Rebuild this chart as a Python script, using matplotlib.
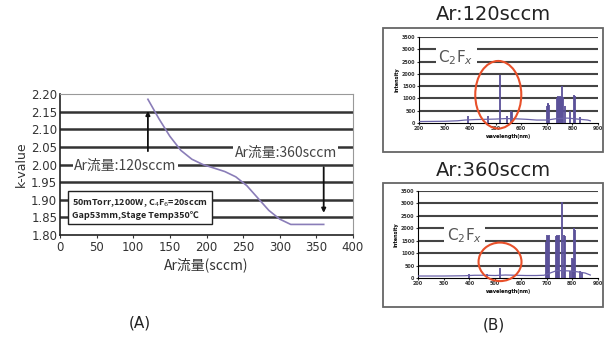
import matplotlib
matplotlib.use("Agg")
import matplotlib.pyplot as plt
from matplotlib.patches import Ellipse, Rectangle

cjk = ['Noto Sans CJK JP', 'DejaVu Sans']

# main chart: k-value vs Ar flow
ar_flow = [120, 135, 150, 165, 180, 195, 210, 225, 240, 255, 270, 285, 300, 315, 330, 345, 360]
k_value = [2.185, 2.13, 2.08, 2.04, 2.015, 2.0, 1.99, 1.98, 1.965, 1.94, 1.905, 1.87, 1.845, 1.83, 1.83, 1.83, 1.83]
x_ticks = [0, 50, 100, 150, 200, 250, 300, 350, 400]
y_ticks = [1.80, 1.85, 1.90, 1.95, 2.00, 2.05, 2.10, 2.15, 2.20]

# spectrum Ar:120sccm
base120_wl = [200, 300, 350, 380, 420, 460, 500, 540, 580, 620, 660, 700, 740, 780, 820, 860, 870]
base120_int = [60, 70, 90, 120, 140, 150, 160, 180, 170, 150, 120, 120, 180, 200, 160, 120, 90]
peak120_wl = [390, 468, 515, 545, 558, 562, 700, 703, 706, 709, 740, 744, 748, 752, 756, 760, 764, 770, 790, 808, 812, 830]
peak120_int = [300, 300, 1950, 300, 500, 450, 700, 800, 780, 750, 1000, 1100, 1050, 1100, 1000, 1500, 1050, 700, 500, 1150, 1100, 250]

# spectrum Ar:360sccm
base360_wl = [200, 300, 380, 420, 460, 500, 540, 580, 620, 660, 690, 740, 800, 850, 870]
base360_int = [80, 80, 90, 110, 110, 100, 120, 110, 100, 100, 110, 300, 280, 200, 120]
peak360_wl = [400, 470, 520, 698, 702, 706, 710, 738, 742, 746, 750, 760, 768, 772, 790, 798, 802, 808, 812, 830, 836]
peak360_int = [150, 150, 400, 1450, 1750, 1700, 1750, 1700, 1750, 1700, 1750, 3050, 1750, 1700, 300, 800, 750, 2000, 1950, 300, 250]
spec_ticks_x = [200, 300, 400, 500, 600, 700, 800, 900]
spec_ticks_y = [0, 500, 1000, 1500, 2000, 2500, 3000, 3500]

W, H = 611, 344
fig = plt.figure(figsize=(W / 100, H / 100), dpi=100)


def px_axes(x0, y0, x1, y1):
    return fig.add_axes([x0 / W, 1 - y1 / H, (x1 - x0) / W, (y1 - y0) / H])


# ---- (A) ----
ax = px_axes(60, 94, 353, 235)
for y in y_ticks[1:-1]:
    ax.axhline(y, color='#333333', lw=1.8, zorder=1)
ax.plot(ar_flow, k_value, color='#8a7db8', lw=1.2, zorder=3)
ax.set_xlim(0, 400)
ax.set_ylim(1.80, 2.20)
ax.set_xticks(x_ticks)
ax.set_yticks(y_ticks)
ax.set_yticklabels([f"{v:.2f}" for v in y_ticks])
ax.tick_params(labelsize=8.5, colors='#333333', length=2, pad=2)
ax.tick_params(axis='y', length=0)
for s in ['top', 'right']:
    ax.spines[s].set_color('#999999')
for s in ['left', 'bottom']:
    ax.spines[s].set_color('#222222')
    ax.spines[s].set_linewidth(1.2)
ax.set_xlabel('Ar流量(sccm)', family=cjk, fontsize=10, color='#333333', labelpad=3)
ax.set_ylabel('k-value', fontsize=9, color='#333333', labelpad=2)

ax.annotate('', xy=(120, 2.16), xytext=(120, 2.03),
            arrowprops=dict(arrowstyle='-|>', color='#111111', lw=1.3, mutation_scale=6), zorder=4)
ax.annotate('', xy=(360, 1.855), xytext=(360, 2.00),
            arrowprops=dict(arrowstyle='-|>', color='#111111', lw=1.3, mutation_scale=6), zorder=4)
ax.text(89, 1.996, 'Ar流量:120sccm', family=cjk, fontsize=10, color='#444444', ha='center', va='center',
        bbox=dict(facecolor='white', edgecolor='none', pad=1), zorder=5)
ax.text(308, 2.033, 'Ar流量:360sccm', family=cjk, fontsize=10, color='#444444', ha='center', va='center',
        bbox=dict(facecolor='white', edgecolor='none', pad=1), zorder=5)
ax.text(16, 1.875, '50mTorr,1200W, C$_4$F$_6$=20sccm\nGap53mm,Stage Temp350℃', family=cjk,
        fontsize=6.5, fontweight='bold', color='#222222', ha='left', va='center', linespacing=1.25,
        bbox=dict(facecolor='white', edgecolor='#222222', boxstyle='square,pad=0.45', lw=1), zorder=5)

fig.text(140 / W, 1 - 323 / H, '(A)', fontsize=11, ha='center', va='center', color='#222222')
fig.text(494 / W, 1 - 325 / H, '(B)', fontsize=11, ha='center', va='center', color='#222222')


# ---- (B) ----
def spectrum(box, axbox, title, title_y, bwl, bint, pwl, pint, ell, label_pos):
    fig.patches.append(Rectangle((box[0] / W, 1 - box[3] / H), (box[2] - box[0]) / W, (box[3] - box[1]) / H,
                                 transform=fig.transFigure, fill=False, edgecolor='#666666', lw=1.3))
    fig.text((box[0] + box[2]) / 2 / W, 1 - title_y / H, title, fontsize=14, ha='center', va='center',
             color='#222222')
    sa = px_axes(*axbox)
    for y in spec_ticks_y[1:]:
        sa.axhline(y, color='#444444', lw=1.5, zorder=1)
    sa.vlines(pwl, 0, pint, color='#5a5099', lw=1.3, zorder=3)
    sa.plot(bwl, bint, color='#6a62a8', lw=0.9, zorder=3)
    sa.set_xlim(200, 900)
    sa.set_ylim(0, 3500)
    sa.set_xticks(spec_ticks_x)
    sa.set_yticks(spec_ticks_y)
    sa.tick_params(labelsize=3.5, length=1.5, pad=1, colors='#333333')
    for lab in sa.get_xticklabels() + sa.get_yticklabels():
        lab.set_fontweight('bold')
    for s in ['top', 'right']:
        sa.spines[s].set_visible(False)
    sa.set_xlabel('wavelength(nm)', fontsize=3.5, labelpad=2, fontweight='bold')
    sa.set_ylabel('Intensity', fontsize=3.5, labelpad=2, fontweight='bold')
    sa.add_patch(Ellipse(ell[:2], ell[2], ell[3], fill=False, edgecolor='#e8502a', lw=1.5,
                         clip_on=False, zorder=6))
    sa.text(label_pos[0], label_pos[1], 'C$_2$F$_x$', fontsize=11, color='#555555', ha='center',
            va='center', bbox=dict(facecolor='white', edgecolor='none', pad=2), zorder=5)


spectrum((383, 28, 603, 152), (419, 37, 598, 123), 'Ar:120sccm', 15,
         base120_wl, base120_int, peak120_wl, peak120_int, (510, 1150, 180, 2750), (345, 2650))
spectrum((383, 183, 603, 307), (418, 191, 598, 278), 'Ar:360sccm', 171,
         base360_wl, base360_int, peak360_wl, peak360_int, (519, 650, 167, 1550), (380, 1700))

fig.savefig('out.png', dpi=100)
